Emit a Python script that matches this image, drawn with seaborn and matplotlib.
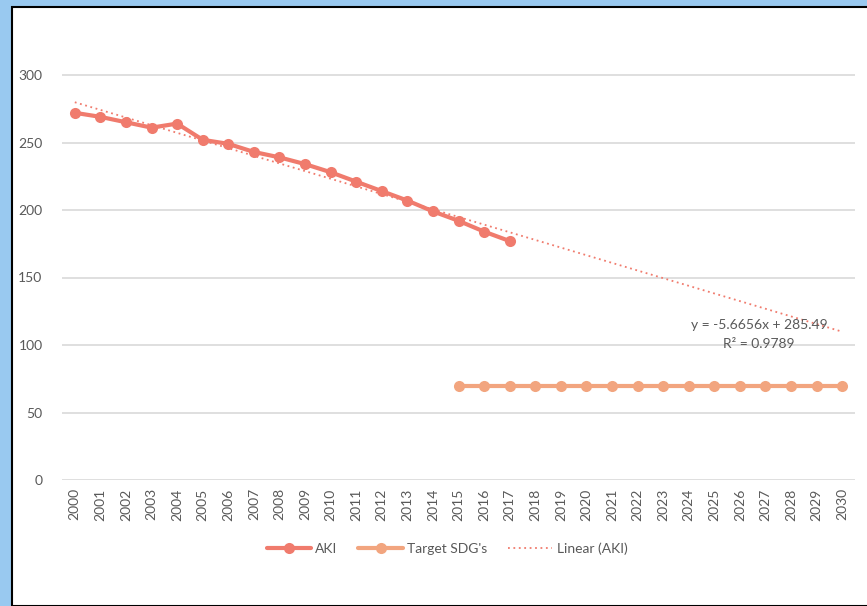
import numpy as np
import pandas as pd
import matplotlib
matplotlib.use("Agg")
import matplotlib.pyplot as plt
from matplotlib.patches import Rectangle
from matplotlib.lines import Line2D
import seaborn as sns

years = [str(y) for y in range(2000, 2031)]
aki_years = [str(y) for y in range(2000, 2018)]
aki_values = [272, 269, 265, 261, 264, 252, 249, 243, 239, 234, 228, 221, 214, 207, 199, 192, 184, 177]
target_years = [str(y) for y in range(2015, 2031)]
target_values = [70] * 16
eq_text = "y = -5.6656x + 285.49"
r2_text = "R² = 0.9789"

sns.set_theme(style="white")
plt.rcParams['font.family'] = ['Lato', 'DejaVu Sans']

C_AKI = "#F07B6D"
C_TGT = "#F2A57F"
C_TXT = "#595959"

fig = plt.figure(figsize=(8.67, 6.06), dpi=100)
fig.patch.set_facecolor("#99C9F0")
fig.patches.append(Rectangle((12/867, 0), 1, 1 - 7/606, transform=fig.transFigure,
                             facecolor="white", edgecolor="black", linewidth=1.5, zorder=-10))

ax = fig.add_axes([62/867, 1 - 480/606, 793/867, (480 - 7.5)/606])
ax.set_facecolor("none")

pos = {y: i for i, y in enumerate(years)}
df_aki = pd.DataFrame({"x": [pos[y] for y in aki_years], "v": aki_values})
df_tgt = pd.DataFrame({"x": [pos[y] for y in target_years], "v": target_values})

# trendline (linear regression on AKI, x = 1..n)
xi = np.arange(1, len(aki_values) + 1)
slope, intercept = np.polyfit(xi, aki_values, 1)
xt = np.arange(len(years))
df_tr = pd.DataFrame({"x": xt, "v": slope * (xt + 1) + intercept})

sns.lineplot(data=df_tr, x="x", y="v", ax=ax, color=C_AKI, linewidth=1.3,
             linestyle=(0, (1, 2)), zorder=2)
sns.lineplot(data=df_aki, x="x", y="v", ax=ax, color=C_AKI, linewidth=3, marker="o",
             markersize=8, markeredgewidth=0, zorder=3)
sns.lineplot(data=df_tgt, x="x", y="v", ax=ax, color=C_TGT, linewidth=3, marker="o",
             markersize=8, markeredgewidth=0, zorder=3)

ax.set_xlim(-0.5, len(years) - 0.5)
ax.set_ylim(0, 350)
ax.set_yticks(range(0, 301, 50))
ax.set_xticks(range(len(years)))
ax.set_xticklabels(years, rotation=90, color=C_TXT, fontsize=10)
ax.tick_params(axis="y", labelcolor=C_TXT, labelsize=10, pad=14, length=0)
ax.tick_params(axis="x", length=0, pad=6)
ax.yaxis.grid(True, color="#D9D9D9", linewidth=1.2)
ax.set_axisbelow(True)
for s in ax.spines.values():
    s.set_visible(False)
ax.set_xlabel("")
ax.set_ylabel("")

ax.text(pos["2027"] - 0.25, 115, eq_text, color=C_TXT, fontsize=10, ha="center", va="center")
ax.text(pos["2027"] - 0.25, 101, r2_text, color=C_TXT, fontsize=10, ha="center", va="center")

handles = [
    Line2D([], [], color=C_AKI, linewidth=3, marker="o", markersize=8, markeredgewidth=0),
    Line2D([], [], color=C_TGT, linewidth=3, marker="o", markersize=8, markeredgewidth=0),
    Line2D([], [], color=C_AKI, linewidth=1.3, linestyle=(0, (1, 2))),
]
leg = fig.legend(handles, ["AKI", "Target SDG's", "Linear (AKI)"], loc="center",
                 bbox_to_anchor=(447/867, 1 - 549/606), ncol=3, frameon=False,
                 fontsize=10, handlelength=3.2, columnspacing=1.5, handletextpad=0.3)
for t in leg.get_texts():
    t.set_color(C_TXT)

fig.savefig("out.png", dpi=100, facecolor=fig.get_facecolor())
